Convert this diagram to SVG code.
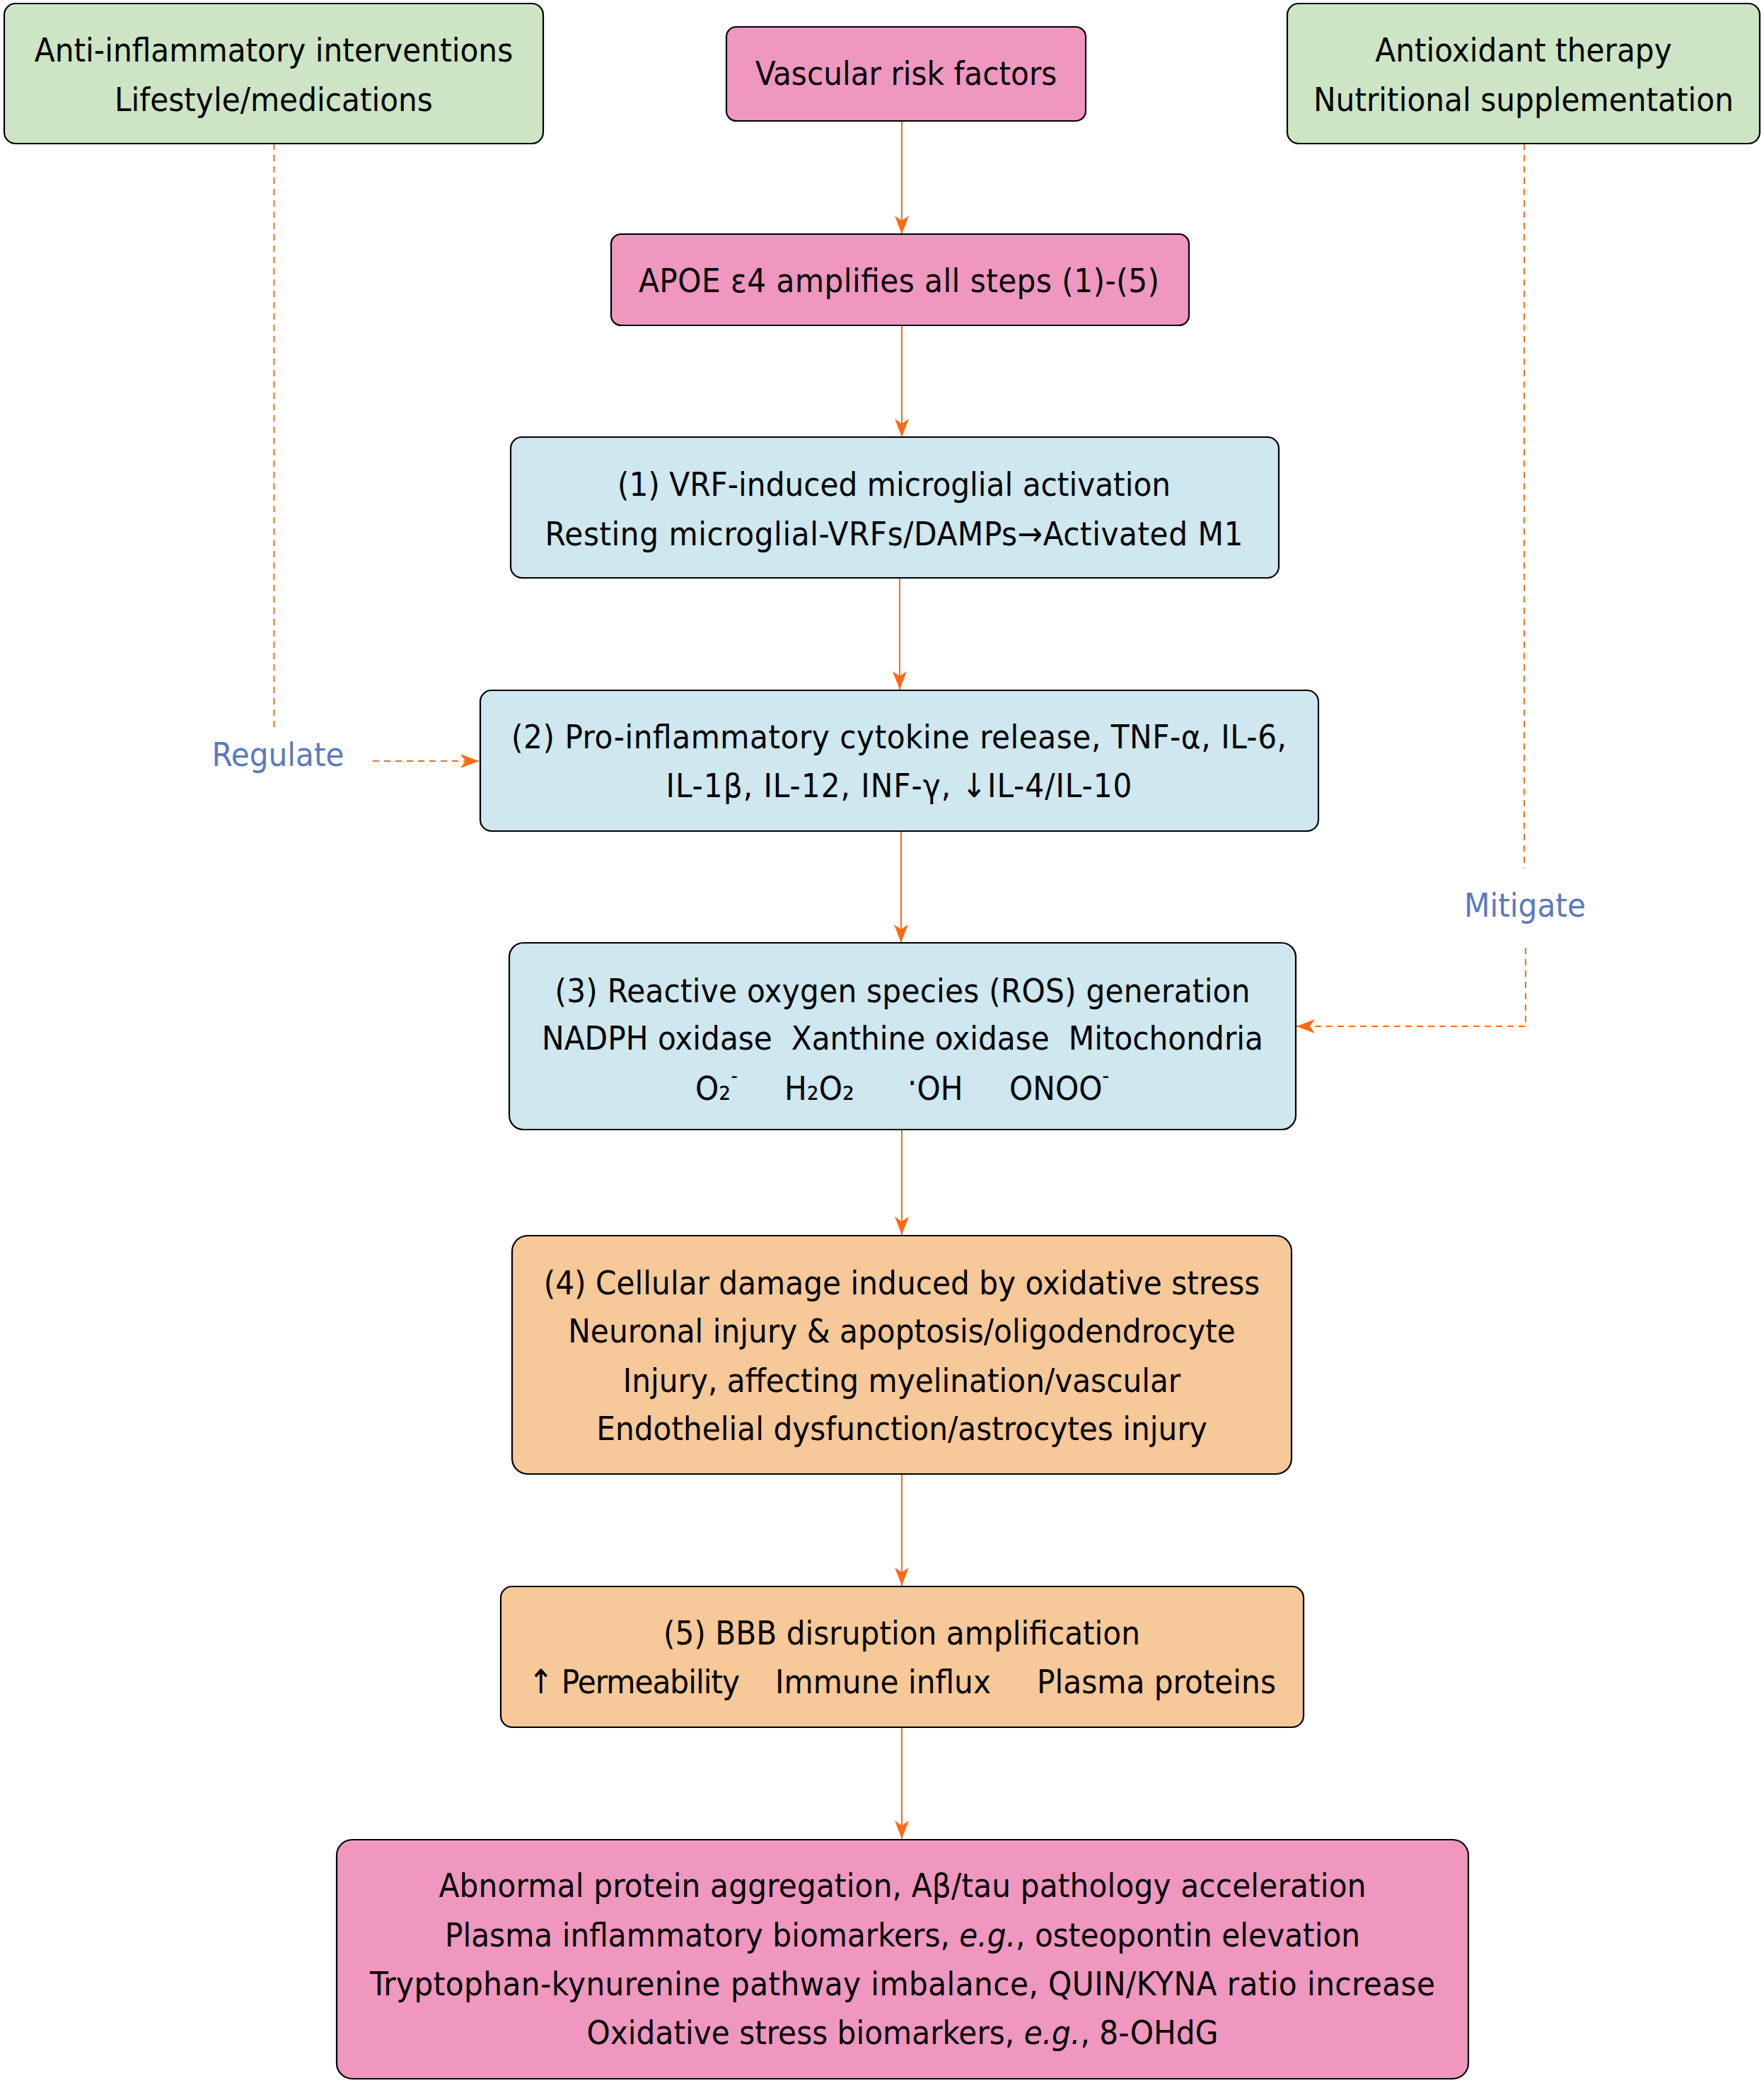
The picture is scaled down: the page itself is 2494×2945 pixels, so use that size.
<svg xmlns="http://www.w3.org/2000/svg" width="2494" height="2945" viewBox="0 0 2494 2945">
<style>
.box{stroke:#000;stroke-width:2.2}
.green{fill:#CDE5C4}
.pink{fill:#EF97BF}
.blue{fill:#CFE7EE}
.orange{fill:#F7C898}
text{font-family:'DejaVu Sans Condensed','DejaVu Sans',sans-serif;font-stretch:condensed;font-size:47px;fill:#000}
.c{text-anchor:middle}
.lbl{fill:#5B79BD}
.conn{stroke:#FF6A13;stroke-width:2;fill:none}
.dash{stroke-dasharray:9 7}
.sup{font-size:30px}
</style>
<defs>
<marker id="arr" markerUnits="userSpaceOnUse" viewBox="0 0 26 20" refX="26" refY="10" markerWidth="26" markerHeight="20" orient="auto">
<path d="M0,0 L26,10 L0,20 L7,10 Z" fill="#FF6A13"/>
</marker>
</defs>
<rect width="2494" height="2945" fill="#fff"/>

<g id="connectors">
<line class="conn" x1="1275" y1="171" x2="1275" y2="331" marker-end="url(#arr)"/>
<line class="conn" x1="1275" y1="460" x2="1275" y2="618" marker-end="url(#arr)"/>
<line class="conn" x1="1272" y1="817" x2="1272" y2="975" marker-end="url(#arr)"/>
<line class="conn" x1="1274" y1="1175" x2="1274" y2="1333" marker-end="url(#arr)"/>
<line class="conn" x1="1275" y1="1597" x2="1275" y2="1746" marker-end="url(#arr)"/>
<line class="conn" x1="1275" y1="2084" x2="1275" y2="2242" marker-end="url(#arr)"/>
<line class="conn" x1="1275" y1="2442" x2="1275" y2="2600" marker-end="url(#arr)"/>
<line class="conn dash" x1="387.5" y1="203" x2="387.5" y2="1034"/>
<line class="conn dash" x1="527" y1="1076" x2="677" y2="1076" marker-end="url(#arr)"/>
<line class="conn dash" x1="2155" y1="203" x2="2155" y2="1228"/>
<path class="conn dash" d="M2157,1340 V1451 H1833" marker-end="url(#arr)"/>
</g>

<g id="anti-inflammatory">
<rect class="box green" x="6" y="5" width="762" height="198" rx="16"/>
<text class="c" x="387" y="87">Anti-inflammatory interventions</text>
<text class="c" x="387" y="157">Lifestyle/medications</text>
</g>

<g id="vascular-risk">
<rect class="box pink" x="1027" y="38" width="508" height="133" rx="14"/>
<text class="c" x="1281" y="120">Vascular risk factors</text>
</g>

<g id="antioxidant">
<rect class="box green" x="1820" y="5" width="668" height="198" rx="16"/>
<text class="c" x="2154" y="87">Antioxidant therapy</text>
<text class="c" x="2154" y="157">Nutritional supplementation</text>
</g>

<g id="apoe">
<rect class="box pink" x="864" y="331" width="817" height="129" rx="14"/>
<text class="c" x="1271" y="413" textLength="736">APOE ε4 amplifies all steps (1)-(5)</text>
</g>

<g id="step1">
<rect class="box blue" x="722" y="618" width="1086" height="199" rx="16"/>
<text class="c" x="1264" y="701">(1) VRF-induced microglial activation</text>
<text class="c" x="1264" y="771" textLength="987">Resting microglial-VRFs/DAMPs→Activated M1</text>
</g>

<g id="step2">
<rect class="box blue" x="679" y="976" width="1185" height="199" rx="16"/>
<text class="c" x="1271" y="1058" textLength="1096">(2) Pro-inflammatory cytokine release, TNF-α, IL-6,</text>
<text class="c" x="1271" y="1127" textLength="659">IL-1β, IL-12, INF-γ, ↓IL-4/IL-10</text>
</g>

<g id="regulate-label">
<text class="c lbl" x="393" y="1083">Regulate</text>
</g>

<g id="mitigate-label">
<text class="c lbl" x="2156" y="1296">Mitigate</text>
</g>

<g id="step3">
<rect class="box blue" x="720" y="1333" width="1112" height="264" rx="20"/>
<text class="c" x="1276" y="1417" textLength="983">(3) Reactive oxygen species (ROS) generation</text>
<text class="c" x="1276" y="1484" xml:space="preserve">NADPH oxidase  Xanthine oxidase  Mitochondria</text>
<text x="983" y="1555">O₂<tspan class="sup" dy="-24">-</tspan></text>
<text x="1109" y="1555">H₂O₂</text>
<text x="1283" y="1555"><tspan dy="-8">·</tspan><tspan dy="8">OH</tspan></text>
<text x="1427" y="1555">ONOO<tspan class="sup" dy="-24">-</tspan></text>
</g>

<g id="step4">
<rect class="box orange" x="724" y="1747" width="1102" height="337" rx="22"/>
<text class="c" x="1275" y="1830">(4) Cellular damage induced by oxidative stress</text>
<text class="c" x="1275" y="1898">Neuronal injury &amp; apoptosis/oligodendrocyte</text>
<text class="c" x="1275" y="1968">Injury, affecting myelination/vascular</text>
<text class="c" x="1275" y="2036">Endothelial dysfunction/astrocytes injury</text>
</g>

<g id="step5">
<rect class="box orange" x="708" y="2243" width="1135" height="199" rx="16"/>
<text class="c" x="1275" y="2325">(5) BBB disruption amplification</text>
<text x="747" y="2394" textLength="299">↑ Permeability</text>
<text x="1096" y="2394">Immune influx</text>
<text x="1466" y="2394">Plasma proteins</text>
</g>

<g id="outcomes">
<rect class="box pink" x="476" y="2601" width="1600" height="338" rx="22"/>
<text class="c" x="1276" y="2682" textLength="1311">Abnormal protein aggregation, Aβ/tau pathology acceleration</text>
<text class="c" x="1276" y="2752">Plasma inflammatory biomarkers, <tspan font-style="italic">e.g.</tspan>, osteopontin elevation</text>
<text class="c" x="1276" y="2821" textLength="1506">Tryptophan-kynurenine pathway imbalance, QUIN/KYNA ratio increase</text>
<text class="c" x="1276" y="2890">Oxidative stress biomarkers, <tspan font-style="italic">e.g.</tspan>, 8-OHdG</text>
</g>
</svg>
